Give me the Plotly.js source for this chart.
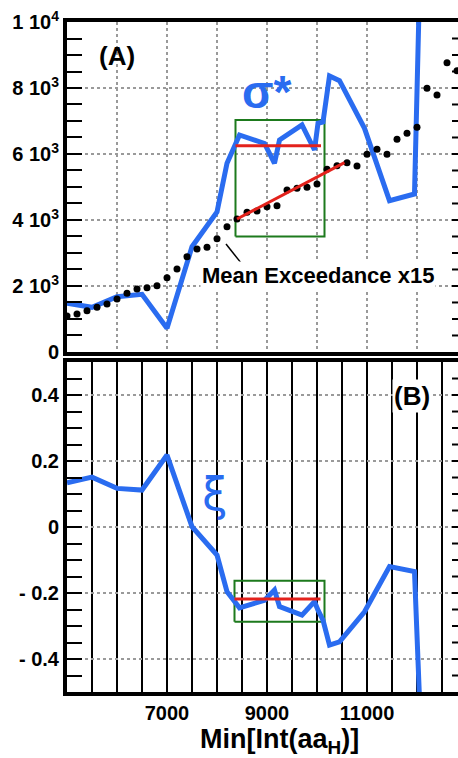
<!DOCTYPE html>
<html>
<head>
<meta charset="utf-8">
<script src="https://cdn.plot.ly/plotly-3.0.1.min.js"></script>
<style>
html,body{margin:0;padding:0;overflow:hidden;background:#fff;}
#chart{width:472px;height:758px;}
</style>
</head>
<body>
<div id="chart"></div>
<script>
// ---- data ----
const minInt = [5000,5500,6000,6500,7000,7500,8000,8200,8450,8950,9150,9250,9700,9950,10020,10120,10250,10450,10950,11450,11950,12050];
const sigmaStar = [1475,1354,1676,1747,718,3191,4240,5717,6576,6320,5717,6424,6879,6121,6930,6970,8364,8222,6778,4585,4788,11000];
const xiValues = [0.134,0.151,0.117,0.112,0.218,0.001,-0.085,-0.196,-0.245,-0.222,-0.191,-0.241,-0.267,-0.226,-0.252,-0.282,-0.358,-0.348,-0.257,-0.120,-0.135,-0.52];

const meX = [5000,5200,5400,5600,5800,6000,6200,6400,6600,6800,7000,7200,7400,7600,7800,8000,8200,8400,8600,8800,9000,9200,9400,9600,9800,10000,10200,10400,10600,10800,11000,11200,11400,11600,11800,12000,12200,12400,12600,12800];
const meanExceedance15 = [1091,1152,1252,1354,1455,1606,1778,1909,1950,2010,2252,2515,2889,3121,3170,3430,3798,4030,4233,4273,4403,4433,4909,4960,4990,5091,5540,5640,5736,5636,5990,6141,5990,6444,6626,6808,7990,7788,8768,8525];

// fit window (A): box and lines
const boxA_x = [8370,10150,10150,8370,8370];
const boxA_y = [3500,3500,7030,7030,3500];
const sigmaMeanX = [8370,10080];
const sigmaMeanY = [6250,6250];
const meFitX = [8400,10550];
const meFitY = [4030,5740];
const pointerX = [8180,8480];
const pointerY = [3270,2700];

// fit window (B)
const boxB_x = [8350,10150,10150,8350,8350];
const boxB_y = [-0.287,-0.287,-0.163,-0.163,-0.287];
const xiMeanX = [8350,10070];
const xiMeanY = [-0.218,-0.218];

const yTopVals = [0,2000,4000,6000,8000,10000];
const yTopText = ['0','2 10<sup>3</sup>','4 10<sup>3</sup>','6 10<sup>3</sup>','8 10<sup>3</sup>','1 10<sup>4</sup>'];
const yBotVals = [-0.4,-0.2,0,0.2,0.4];
const yBotText = ['- 0.4','- 0.2','0','0.2','0.4'];
const xBotVals = [7000,9000,11000];
const xBotText = ['7000','9000','11000'];

const BLUE = '#2a6cf0';
const RED = '#e3221c';
const GREEN = '#1d7a1d';
const GRID = '#9a9a9a';

const traces = [
  {x: boxA_x, y: boxA_y, xaxis:'x', yaxis:'y', mode:'lines', line:{color:GREEN, width:2}, hoverinfo:'skip'},
  {x: minInt, y: sigmaStar, xaxis:'x', yaxis:'y', mode:'lines', line:{color:BLUE, width:5}},
  {x: meX, y: meanExceedance15, xaxis:'x', yaxis:'y', mode:'markers', marker:{color:'black', size:7}},
  {x: sigmaMeanX, y: sigmaMeanY, xaxis:'x', yaxis:'y', mode:'lines', line:{color:RED, width:3}},
  {x: meFitX, y: meFitY, xaxis:'x', yaxis:'y', mode:'lines', line:{color:RED, width:3}},
  {x: pointerX, y: pointerY, xaxis:'x', yaxis:'y', mode:'lines', line:{color:'black', width:1.5}},
  {x: boxB_x, y: boxB_y, xaxis:'x2', yaxis:'y2', mode:'lines', line:{color:GREEN, width:2}, hoverinfo:'skip'},
  {x: minInt, y: xiValues, xaxis:'x2', yaxis:'y2', mode:'lines', line:{color:BLUE, width:5}},
  {x: xiMeanX, y: xiMeanY, xaxis:'x2', yaxis:'y2', mode:'lines', line:{color:RED, width:3}}
];

const FONT = 'Liberation Sans, Arial, sans-serif';

// right-hand inside tick marks (axis decoration), one every minor step
const tickShapes = [];
const TICK_X0 = 1 - 15/400;
for (let k = 1; k < 20; k++) {
  tickShapes.push({type:'line', xref:'paper', yref:'y', x0:TICK_X0, x1:1, y0:k*500, y1:k*500, line:{color:'black', width:2}, layer:'above'});
}
for (let k = -9; k <= 9; k++) {
  tickShapes.push({type:'line', xref:'paper', yref:'y2', x0:TICK_X0, x1:1, y0:k*0.05, y1:k*0.05, line:{color:'black', width:2}, layer:'above'});
}

const layout = {
  width: 472, height: 758,
  margin: {l:67, r:5, t:22, b:66},
  paper_bgcolor:'white', plot_bgcolor:'white',
  showlegend:false,
  font:{family:FONT, color:'black'},
  xaxis:{
    domain:[0,1], anchor:'y', range:[5000,13000],
    showticklabels:false, ticks:'', tick0:5000, dtick:1000,
    showgrid:true, gridcolor:GRID, griddash:'dot', gridwidth:1.5,
    showline:true, linewidth:4, linecolor:'black', mirror:true, zeroline:false
  },
  yaxis:{
    domain:[0.5075,1], anchor:'x', range:[0,10000],
    tickmode:'array', tickvals:yTopVals, ticktext:yTopText,
    ticks:'inside', ticklen:15, tickwidth:2, tickcolor:'black',
    minor:{dtick:500, tick0:0, ticks:'inside', ticklen:15, tickwidth:2, tickcolor:'black', showgrid:false},
    showgrid:true, gridcolor:GRID, griddash:'dot', gridwidth:1.5,
    showline:true, linewidth:4, linecolor:'black', mirror:true, zeroline:false,
    tickfont:{size:20, weight:'bold', family:FONT}
  },
  xaxis2:{
    domain:[0,1], anchor:'y2', range:[5000,13000],
    tickmode:'array', tickvals:xBotVals, ticktext:xBotText, ticks:'',
    showgrid:true, gridcolor:'black', gridwidth:1.5,
    minor:{dtick:500, tick0:5000, showgrid:true, gridcolor:'black', gridwidth:1.5, ticks:''},
    showline:true, linewidth:4, linecolor:'black', mirror:true, zeroline:false,
    tickfont:{size:20, weight:'bold', family:FONT}
  },
  yaxis2:{
    domain:[0,0.4925], anchor:'x2', range:[-0.5,0.5],
    tickmode:'array', tickvals:yBotVals, ticktext:yBotText,
    ticks:'inside', ticklen:15, tickwidth:2, tickcolor:'black',
    minor:{dtick:0.05, tick0:0, ticks:'inside', ticklen:15, tickwidth:2, tickcolor:'black', showgrid:false},
    showgrid:true, gridcolor:GRID, griddash:'dot', gridwidth:1.5,
    showline:true, linewidth:4, linecolor:'black', mirror:true, zeroline:false,
    tickfont:{size:20, weight:'bold', family:FONT}
  },
  shapes: tickShapes,
  annotations:[
    {text:'(A)', x:6000, y:8955, xref:'x', yref:'y', showarrow:false, font:{size:26, weight:'bold', family:FONT}},
    {text:'σ*', x:8980, y:7880, xref:'x', yref:'y', showarrow:false, font:{size:46, weight:'bold', color:BLUE, family:FONT}},
    {text:'Mean Exceedance x15', x:10020, y:2303, xref:'x', yref:'y', showarrow:false, bgcolor:'white', font:{size:22, weight:'bold', family:FONT}},
    {text:'(B)', x:11900, y:0.397, xref:'x2', yref:'y2', showarrow:false, bgcolor:'white', font:{size:26, weight:'bold', family:FONT}},
    {text:'ξ', x:7960, y:0.1, xref:'x2', yref:'y2', showarrow:false, font:{size:46, color:BLUE, family:'DejaVu Sans, sans-serif'}},
    {text:'Min[Int(aa<sub>H</sub>)]', x:0.53, y:-0.045, xref:'paper', yref:'paper', yanchor:'top', showarrow:false, font:{size:27, weight:'bold', family:FONT}}
  ]
};

Plotly.newPlot('chart', traces, layout, {displayModeBar:false, staticPlot:true});
</script>
</body>
</html>
